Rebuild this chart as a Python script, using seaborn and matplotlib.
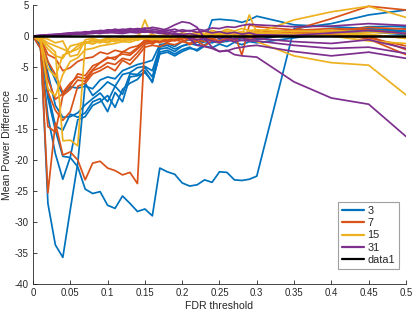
import numpy as np
import pandas as pd
import seaborn as sns
import matplotlib.pyplot as plt
from matplotlib.lines import Line2D

# FDR thresholds (x)
fdr = [0.00, 0.01, 0.02, 0.03, 0.04, 0.05, 0.06, 0.07, 0.08, 0.09,
       0.10, 0.11, 0.12, 0.13, 0.14, 0.15, 0.16, 0.17, 0.18, 0.19,
       0.20, 0.21, 0.22, 0.23, 0.24, 0.25, 0.26, 0.27, 0.28, 0.29,
       0.30, 0.35, 0.40, 0.45, 0.50]

groups = ['3', '7', '15', '31']
colors = {'3': '#0072BD', '7': '#D95319', '15': '#EDB120', '31': '#7E2F8E'}

# group "3"
b1 = [0, -0.5, -27.0, -33.7, -35.7, -28.0, -20.5, -7.6, -9.6, -8.6, -7.4, -8.1, -6.2, -5.9, -5.1, -4.9, -5.6, -1.8, -1.5, -2.1, -1.6, -1.2, -1.5, -0.9, -1.1, -0.6, -0.9, -0.4, -0.7, -0.3, -0.6, 0.4, 0.3, 0.7, 0.2]
b2 = [0, -1.0, -10.0, -15.2, -19.4, -19.6, -21.1, -24.7, -25.4, -25.1, -27.3, -27.8, -25.8, -27.0, -28.3, -27.9, -29.0, -21.3, -21.9, -22.3, -23.7, -24.2, -24.0, -23.2, -23.6, -21.9, -22.0, -23.2, -23.3, -23.1, -22.6, 1.2, 2.0, 3.4, 4.2]
b3 = [0, -2.0, -13.0, -19.0, -23.1, -19.5, -13.5, -13.0, -11.2, -10.6, -9.6, -11.5, -8.6, -7.6, -7.0, -5.6, -7.5, -2.6, -2.3, -2.9, -2.2, -1.8, -2.4, -1.6, -1.9, -1.3, -1.7, -1.0, -1.4, -0.9, -1.1, -0.3, 0.5, 0.9, 1.3]
b4 = [0, -1.5, -9.0, -14.5, -15.2, -12.6, -13.1, -12.4, -10.6, -10.1, -12.2, -9.1, -10.6, -6.6, -6.4, -5.9, -7.3, -2.9, -2.6, -3.2, -2.5, -2.0, -2.2, -1.4, -0.9, -1.1, -0.8, -0.5, 0.2, -0.3, 0.1, 0.6, 0.9, 1.1, 0.6]
b5 = [0, -0.8, -6.0, -11.2, -13.1, -13.0, -12.4, -11.1, -10.1, -9.2, -10.6, -8.1, -9.4, -6.1, -6.2, -5.1, -6.6, -2.1, -1.9, -2.5, -1.6, -1.3, -1.0, -0.7, 2.6, 2.7, 2.6, 2.5, 2.2, 2.6, 3.2, 1.8, 1.5, 1.2, 0.8]
b6 = [0, -0.5, -4.2, -7.1, -9.4, -8.2, -8.4, -8.1, -8.5, -7.1, -6.6, -6.9, -5.6, -5.1, -4.6, -4.3, -3.9, -1.4, -1.2, -1.7, -0.9, -0.6, -1.0, -0.3, -0.5, 0.1, -0.2, 0.3, 0.0, 0.4, 0.2, 1.0, 0.7, 1.5, 1.6]

# group "7"
o1 = [0, -1.0, -25.3, -14.0, -19.2, -18.7, -20.0, -23.2, -20.5, -20.2, -21.3, -21.7, -22.4, -22.0, -23.8, -0.7, -0.4, -0.6, -0.2, -0.5, -0.1, -0.4, 0.1, -0.2, 0.3, 0.0, 0.5, 0.4, -3.1, 1.8, 1.5, 1.0, 2.8, 4.8, 4.2]
o2 = [0, -0.5, -9.0, -12.0, -13.6, -12.2, -8.1, -7.6, -6.1, -5.6, -4.9, -5.6, -3.9, -4.6, -3.3, -1.8, -1.5, -1.7, -1.2, -1.4, -0.9, -1.2, -0.6, -0.9, -0.4, -0.8, -0.3, -0.6, -0.2, -0.5, -0.1, 0.3, 0.6, -0.5, -3.0]
o3 = [0, -2.0, -14.6, -15.5, -9.6, -8.6, -7.1, -7.3, -5.6, -5.1, -4.3, -4.6, -3.6, -3.9, -2.7, -1.3, -1.1, -0.8, -1.0, -0.6, -0.9, -0.4, -0.7, -0.2, -0.5, 0.1, -0.3, 0.4, 0.2, 0.6, 0.3, 0.9, 1.2, 1.0, 0.4]
o4 = [0, -0.4, -4.1, -6.2, -9.1, -7.6, -6.6, -6.9, -5.4, -4.3, -3.6, -3.4, -2.9, -3.1, -2.1, -1.0, -0.7, -1.1, -0.5, -0.8, -0.3, -0.6, -0.1, -0.4, 0.2, -0.2, 0.4, 0.1, 0.5, 0.2, 0.8, 0.5, 0.3, -0.3, -1.6]
o5 = [0, -0.3, -3.0, -3.6, -5.6, -5.1, -4.1, -3.6, -3.4, -2.6, -2.9, -2.3, -2.6, -1.9, -1.6, -0.8, -1.3, -0.5, -0.9, -0.3, -0.6, -1.4, -0.8, -1.6, -0.7, -1.1, -0.5, -0.9, 0.3, -0.2, 0.2, 0.4, 0.8, 1.4, 1.1]
o6 = [0, -0.8, -7.0, -10.2, -9.3, -8.0, -6.1, -6.4, -4.8, -4.3, -3.4, -3.8, -2.5, -2.8, -1.9, -0.6, -0.9, -0.3, -0.7, -0.1, -0.5, 0.0, -0.3, 0.2, -0.1, 0.3, 0.0, 0.5, 0.2, 0.7, 0.4, 0.6, 0.2, 0.0, -2.2]

# group "15"
y1 = [0, -0.5, -1.5, -2.6, -16.9, -16.8, -17.7, -1.2, -0.8, -1.1, -0.6, -0.9, -0.4, -0.7, -0.3, -0.5, -0.2, -0.4, 0.1, -0.2, 0.3, 0.0, 0.4, 0.2, 0.6, 0.3, 0.5, 0.1, 0.4, 0.2, 0.5, 0.8, 0.6, 0.3, -0.4]
y2 = [0, -1.0, -8.5, -9.7, -6.2, -4.1, -3.5, -2.2, -2.0, -1.6, -1.4, -1.2, -0.9, -1.0, -0.6, 2.6, -0.4, -0.6, -0.2, -0.3, 0.1, -0.1, 0.3, 0.0, 0.2, 0.4, 0.1, 0.6, 0.3, 0.8, 0.5, 2.6, 3.9, 4.8, 3.0]
y3 = [0, -0.6, -5.2, -6.6, -3.1, -2.6, -2.1, -1.0, -1.3, -0.8, -1.1, -0.6, -0.9, -0.4, -0.7, -0.3, -0.6, -0.2, -0.4, 0.1, -0.2, 0.2, 0.0, 0.3, 0.1, 0.5, 0.2, 0.0, 0.1, 3.4, 0.5, 0.2, 0.4, 0.1, -0.3]
y4 = [0, -0.4, -2.1, -3.2, -3.6, -1.6, -1.3, -0.9, -1.2, -0.7, -1.0, -0.5, -0.8, -0.3, -0.6, -0.2, -0.5, -0.1, -0.3, 0.0, -0.2, 0.1, -0.1, 0.2, 0.0, 0.1, -0.2, 0.0, -0.4, -0.2, -0.9, -3.2, -4.3, -4.7, -9.5]
y5 = [0, -0.3, -1.1, -1.6, -2.1, -2.6, -1.6, -1.1, -0.6, -1.0, -0.5, -0.8, -0.4, -0.6, -0.2, -0.4, 0.0, -0.3, 0.2, -0.1, 0.3, 0.1, 0.4, 0.2, 0.6, 0.4, 0.8, 0.5, 0.7, 0.4, 0.6, 0.3, 0.0, -0.8, -1.2]
y6 = [0, -0.2, -0.5, -1.1, -0.8, -3.3, -3.0, -0.6, -0.4, -0.7, -0.3, -0.5, -0.1, -0.3, 0.1, -0.1, 0.2, 0.0, 0.4, 0.2, 0.5, 0.3, 0.6, 0.4, 0.9, 0.6, 1.1, 0.8, 1.2, 0.9, 1.0, 0.7, 0.9, 0.6, 0.4]

# group "31"
p1 = [0, 0.1, 0.2, 0.3, 0.2, 0.4, 0.5, 0.4, 0.7, 0.8, 0.6, 0.9, 0.7, 0.8, 0.6, 0.9, 0.5, 0.8, 1.2, 1.8, 2.3, 2.1, 1.4, -0.4, -1.8, -2.5, -2.3, -3.0, -3.2, -3.3, -3.4, -7.4, -10.0, -11.0, -16.2]
p2 = [0, 0.0, 0.1, 0.2, 0.3, 0.3, 0.5, 0.6, 0.5, 0.7, 0.9, 0.8, 1.0, 0.7, 0.9, 0.6, 0.8, 0.4, 0.6, 0.2, 0.3, -0.5, -1.5, -1.7, -2.0, -2.5, -2.4, -2.0, -1.8, -1.6, -1.5, -2.5, -3.2, -2.6, -3.6]
p3 = [0, 0.1, 0.1, 0.2, 0.4, 0.5, 0.4, 0.7, 0.6, 0.9, 0.8, 1.1, 0.9, 1.2, 1.0, 1.3, 1.1, 0.9, 0.6, 0.3, 0.0, -0.3, -0.6, -0.4, -0.8, -1.0, -0.6, -0.9, -0.7, -0.8, -0.8, -1.5, -2.0, -1.8, -2.8]
p4 = [0, 0.0, 0.2, 0.1, 0.3, 0.2, 0.4, 0.3, 0.5, 0.4, 0.6, 0.5, 0.4, 0.6, 0.5, 0.7, 0.6, 0.5, 0.3, 0.5, 0.2, 0.4, 0.1, -0.2, 0.0, -0.4, -0.2, -0.5, -0.3, -0.6, -0.4, -0.9, -1.2, -0.6, -2.0]
p5 = [0, 0.1, 0.2, 0.2, 0.3, 0.5, 0.6, 0.5, 0.8, 0.7, 1.0, 0.9, 1.1, 1.0, 1.2, 1.1, 1.4, 1.2, 0.9, 1.1, 0.7, 0.9, 0.6, 0.8, 0.5, 0.7, 0.4, 0.6, 0.3, 0.5, 0.2, 0.1, 0.5, 0.9, 0.4]
p6 = [0, 0.0, 0.1, 0.1, 0.2, 0.3, 0.3, 0.4, 0.4, 0.6, 0.5, 0.7, 0.6, 0.8, 0.7, 0.9, 0.8, 0.6, 0.9, 0.7, 1.0, 0.8, 1.1, 0.9, 1.3, 1.2, 1.5, 1.4, 1.7, 1.9, 1.8, 1.5, 1.6, 2.0, 1.7]

baseline = [0.0, 0.0]

curves = {'3': [b1, b2, b3, b4, b5, b6],
          '7': [o1, o2, o3, o4, o5, o6],
          '15': [y1, y2, y3, y4, y5, y6],
          '31': [p1, p2, p3, p4, p5, p6]}

rows = []
for g, lines in curves.items():
    for k, vals in enumerate(lines):
        for xv, yv in zip(fdr, vals):
            rows.append((g, g + '_' + str(k), xv, yv))
df = pd.DataFrame(rows, columns=['group', 'line', 'fdr', 'diff'])

sns.set_style('ticks')
plt.rcParams['font.family'] = ['Liberation Sans', 'DejaVu Sans']
plt.rcParams['axes.unicode_minus'] = False

fig = plt.figure(figsize=(4.15, 3.12), dpi=100)
ax = fig.add_axes([0.0795, 0.0897, 0.8988, 0.8942])

sns.lineplot(data=df, x='fdr', y='diff', hue='group', units='line', estimator=None,
             hue_order=groups, palette=colors, legend=False, linewidth=1.25,
             sort=False, ax=ax)
ax.plot([fdr[0], fdr[-1]], baseline, color='black', linewidth=1.8)

ax.set_xlim(0, 0.5)
ax.set_ylim(-40, 5)
ax.set_xticks(np.arange(0, 0.51, 0.05))
ax.set_xticklabels(['0', '0.05', '0.1', '0.15', '0.2', '0.25', '0.3', '0.35', '0.4', '0.45', '0.5'])
ax.set_yticks(np.arange(-40, 6, 5))
ax.tick_params(direction='in', length=3, width=0.6, labelsize=6.9, colors='#262626', pad=3)
for s in ['top', 'right']:
    ax.spines[s].set_visible(False)
for s in ['left', 'bottom']:
    ax.spines[s].set_color('#262626')
    ax.spines[s].set_linewidth(0.6)
ax.set_xlabel('FDR threshold', fontsize=7.6, color='#262626', labelpad=2)
ax.set_ylabel('Mean Power Difference', fontsize=7.6, color='#262626', labelpad=2)

handles = [Line2D([], [], color=colors[g], linewidth=1.6) for g in groups]
handles.append(Line2D([], [], color='black', linewidth=1.6))
leg = ax.legend(handles, groups + ['data1'], loc='lower right', bbox_to_anchor=(0.98, 0.054),
                borderaxespad=0, fontsize=7.8, handlelength=2.1, handletextpad=0.25,
                labelspacing=0.22, borderpad=0.35, fancybox=False, framealpha=1)
leg.get_frame().set_edgecolor('#a0a0a0')
leg.get_frame().set_linewidth(0.8)

fig.savefig('out.png', dpi=100)
